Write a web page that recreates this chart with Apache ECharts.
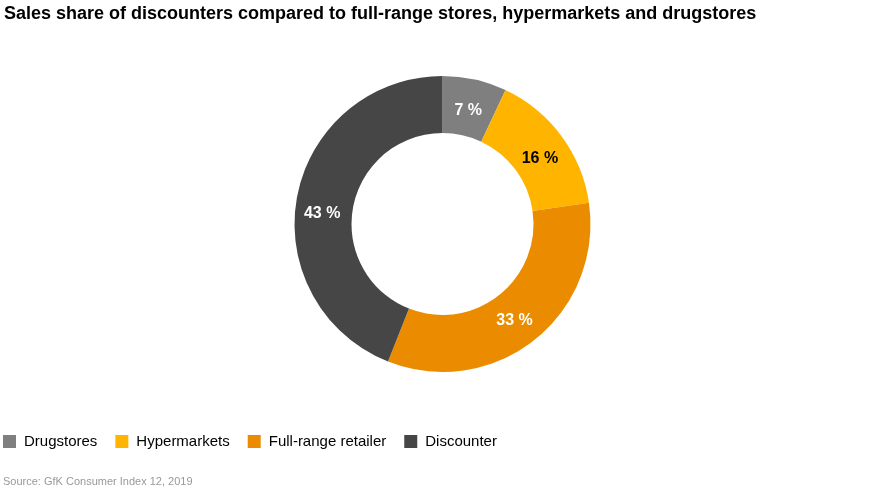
<!DOCTYPE html>
<html><head><meta charset="utf-8">
<script src="https://cdn.jsdelivr.net/npm/echarts@6/dist/echarts.min.js"></script>
<style>html,body{margin:0;padding:0;background:#fff}#c{width:885px;height:491px}</style>
</head><body><div id="c"></div>
<script>
// Categories and their shares (arc sizes; printed labels as shown)
const categories = ['Drugstores', 'Hypermarkets', 'Full-range retailer', 'Discounter'];
const shares = [7, 15.7, 33.3, 44];
const shareLabels = ['7 %', '16 %', '33 %', '43 %'];
const colors = ['#7f7f7f', '#ffb500', '#eb8c00', '#464646'];
const labelColors = ['#ffffff', '#000000', '#ffffff', '#ffffff'];
const labelOffsets = [[-1, 6], [-1, 8], [-4, 1], [0, 13]];
const FONT = '"Liberation Sans", Arial, Helvetica, sans-serif';

const chart = echarts.init(document.getElementById('c'));
chart.setOption({
  animation: false,
  textStyle: { fontFamily: FONT },
  title: [{
    text: 'Sales share of discounters compared to full-range stores, hypermarkets and drugstores',
    left: 4, top: 5, padding: 0,
    textStyle: { fontFamily: FONT, fontSize: 18, fontWeight: 'bold', color: '#000' }
  }, {
    text: 'Source: GfK Consumer Index 12, 2019',
    left: 3, top: 476, padding: 0,
    textStyle: { fontFamily: FONT, fontSize: 11, fontWeight: 'normal', color: '#999999' }
  }],
  legend: {
    left: -2, top: 429,
    icon: 'rect', itemWidth: 13, itemHeight: 13, itemGap: 18,
    textStyle: { fontFamily: FONT, fontSize: 15, color: '#000', padding: [0, 0, 0, 3] },
    data: categories
  },
  series: [{
    type: 'pie',
    center: [442.5, 224],
    radius: [91, 148],
    startAngle: 90,
    clockwise: true,
    silent: true,
    label: {
      position: 'inside',
      fontFamily: FONT, fontSize: 16, fontWeight: 'bold',
      formatter: p => shareLabels[p.dataIndex]
    },
    labelLine: { show: false },
    data: categories.map((name, i) => ({
      name, value: shares[i],
      itemStyle: { color: colors[i] },
      label: { color: labelColors[i], offset: labelOffsets[i] }
    }))
  }]
});
</script></body></html>
